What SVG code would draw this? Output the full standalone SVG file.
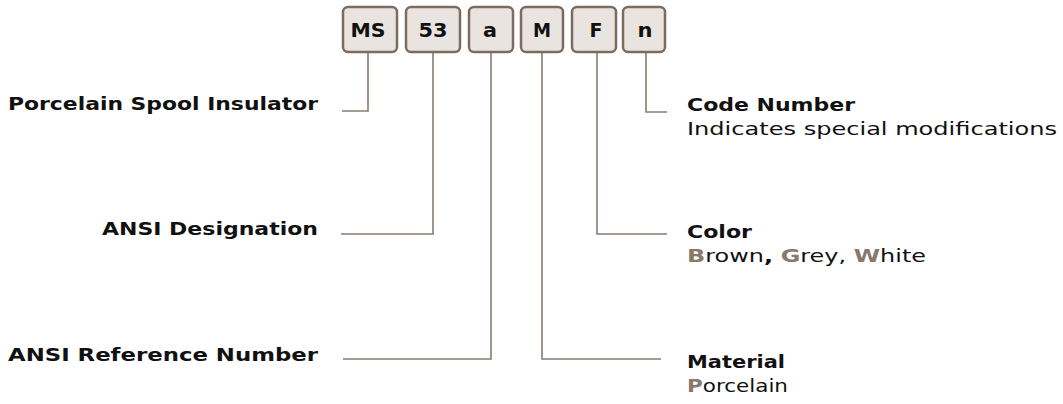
<svg xmlns="http://www.w3.org/2000/svg" width="1063" height="404" viewBox="0 0 1063 404">
<style>
.box{fill:#e9e4e0;stroke:#7d6b5f;stroke-width:2.5}
.bt{font-family:"DejaVu Sans","Liberation Sans",sans-serif;font-weight:700;font-size:20px;fill:#111;text-anchor:middle}
.lbl{font-family:"DejaVu Sans","Liberation Sans",sans-serif;font-weight:700;font-size:18px;fill:#111}
.sub{font-family:"DejaVu Sans","Liberation Sans",sans-serif;font-weight:400;font-size:18px;fill:#111}
.hl{fill:#8a7868;font-weight:700}
.end{text-anchor:end}
.con{fill:none;stroke:#8c7b70;stroke-width:1.6}
</style>
<rect width="1063" height="404" fill="#fff"/>
<g id="connectors">
<polyline class="con" points="368,52 368,111 342,111"/>
<polyline class="con" points="433,52 433,234 341,234"/>
<polyline class="con" points="491,52 491,359 343,359"/>
<polyline class="con" points="542,52 542,359 661,359"/>
<polyline class="con" points="597,52 597,234 667,234"/>
<polyline class="con" points="646,52 646,112 667,112"/>
</g>
<g id="box-MS"><rect class="box" x="343" y="7" width="54" height="45" rx="5"/><text class="bt" x="368" y="37" textLength="35" lengthAdjust="spacingAndGlyphs">MS</text></g>
<g id="box-53"><rect class="box" x="406" y="7" width="54" height="45" rx="5"/><text class="bt" x="433" y="37" textLength="29" lengthAdjust="spacingAndGlyphs">53</text></g>
<g id="box-a"><rect class="box" x="469" y="7" width="44" height="45" rx="5"/><text class="bt" x="490" y="37" textLength="14" lengthAdjust="spacingAndGlyphs">a</text></g>
<g id="box-M"><rect class="box" x="521" y="7" width="42" height="45" rx="5"/><text class="bt" x="542" y="37" textLength="18" lengthAdjust="spacingAndGlyphs">M</text></g>
<g id="box-F"><rect class="box" x="572" y="7" width="44" height="45" rx="5"/><text class="bt" x="596" y="37" textLength="13" lengthAdjust="spacingAndGlyphs">F</text></g>
<g id="box-n"><rect class="box" x="623" y="7" width="42" height="45" rx="5"/><text class="bt" x="645" y="37" textLength="15" lengthAdjust="spacingAndGlyphs">n</text></g>
<g id="label-insulator"><text class="lbl end" x="318" y="110" textLength="310" lengthAdjust="spacingAndGlyphs">Porcelain Spool Insulator</text></g>
<g id="label-designation"><text class="lbl end" x="318" y="235" textLength="216" lengthAdjust="spacingAndGlyphs">ANSI Designation</text></g>
<g id="label-reference"><text class="lbl end" x="318" y="361" textLength="310" lengthAdjust="spacingAndGlyphs">ANSI Reference Number</text></g>
<g id="label-code"><text class="lbl" x="687" y="111" textLength="168" lengthAdjust="spacingAndGlyphs">Code Number</text><text class="sub" x="687" y="135" textLength="370" lengthAdjust="spacingAndGlyphs">Indicates special modifications</text></g>
<g id="label-color"><text class="lbl" x="687" y="238" textLength="65" lengthAdjust="spacingAndGlyphs">Color</text><text class="sub" x="687" y="262" textLength="239" lengthAdjust="spacingAndGlyphs"><tspan class="hl">B</tspan>rown<tspan font-weight="700">,</tspan> <tspan class="hl">G</tspan>rey, <tspan class="hl">W</tspan>hite</text></g>
<g id="label-material"><text class="lbl" x="687" y="368" textLength="98" lengthAdjust="spacingAndGlyphs">Material</text><text class="sub" x="687" y="392" textLength="101" lengthAdjust="spacingAndGlyphs"><tspan class="hl">P</tspan>orcelain</text></g>
</svg>
